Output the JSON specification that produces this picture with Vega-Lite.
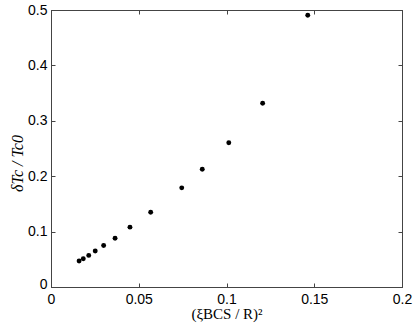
{
  "$schema": "https://vega.github.io/schema/vega-lite/v6.json",
  "width": 351,
  "height": 277,
  "autosize": {"type": "none"},
  "padding": {"left": 51, "top": 10, "right": 13, "bottom": 39},
  "background": "white",
  "config": {
    "view": {"stroke": "#444", "strokeWidth": 1},
    "axis": {
      "labelFont": "Liberation Sans",
      "labelFontSize": 14,
      "labelColor": "black",
      "domainColor": "#444",
      "tickColor": "#444",
      "grid": false,
      "tickSize": -4,
      "titleColor": "black"
    }
  },
  "data": {
    "values": [
      {"x": 0.0160, "y": 0.047},
      {"x": 0.0184, "y": 0.051},
      {"x": 0.0215, "y": 0.057},
      {"x": 0.0252, "y": 0.065},
      {"x": 0.0300, "y": 0.075},
      {"x": 0.0365, "y": 0.088},
      {"x": 0.0450, "y": 0.108},
      {"x": 0.0568, "y": 0.135},
      {"x": 0.0745, "y": 0.179},
      {"x": 0.0862, "y": 0.2125},
      {"x": 0.1013, "y": 0.2605},
      {"x": 0.1206, "y": 0.3316},
      {"x": 0.1463, "y": 0.4904}
    ]
  },
  "layer": [
    {
      "mark": {"type": "point", "filled": true, "color": "black", "opacity": 1, "size": 24},
      "encoding": {
        "x": {
          "field": "x", "type": "quantitative",
          "scale": {"domain": [0, 0.2], "nice": false, "zero": false},
          "axis": {
            "values": [0, 0.05, 0.1, 0.15, 0.2],
            "format": "~g",
            "labelPadding": 9,
            "labelFlush": false,
            "title": "(ξBCS / R)²",
            "titleFont": "Liberation Serif",
            "titleFontSize": 15,
            "titleFontWeight": "normal",
            "titlePadding": 0
          }
        },
        "y": {
          "field": "y", "type": "quantitative",
          "scale": {"domain": [0, 0.5], "nice": false, "zero": false},
          "axis": {
            "values": [0, 0.1, 0.2, 0.3, 0.4, 0.5],
            "format": "~g",
            "labelPadding": 8,
            "labelFlush": false,
            "labelOffset": {"condition": {"test": "datum.value == 0", "value": -3}, "value": 0},
            "title": "δTc / Tc0",
            "titleFont": "Liberation Serif",
            "titleFontStyle": "italic",
            "titleFontSize": 16,
            "titleFontWeight": "normal",
            "titlePadding": 2,
            "titleY": 153
          }
        }
      }
    },
    {
      "mark": {"type": "point", "opacity": 0},
      "encoding": {
        "x": {
          "field": "x", "type": "quantitative",
          "scale": {"domain": [0, 0.2], "nice": false, "zero": false},
          "axis": {"orient": "top", "values": [0, 0.05, 0.1, 0.15, 0.2], "labels": false, "title": null}
        },
        "y": {
          "field": "y", "type": "quantitative",
          "scale": {"domain": [0, 0.5], "nice": false, "zero": false},
          "axis": {"orient": "right", "values": [0, 0.1, 0.2, 0.3, 0.4, 0.5], "labels": false, "title": null}
        }
      }
    }
  ],
  "resolve": {"axis": {"x": "independent", "y": "independent"}}
}
